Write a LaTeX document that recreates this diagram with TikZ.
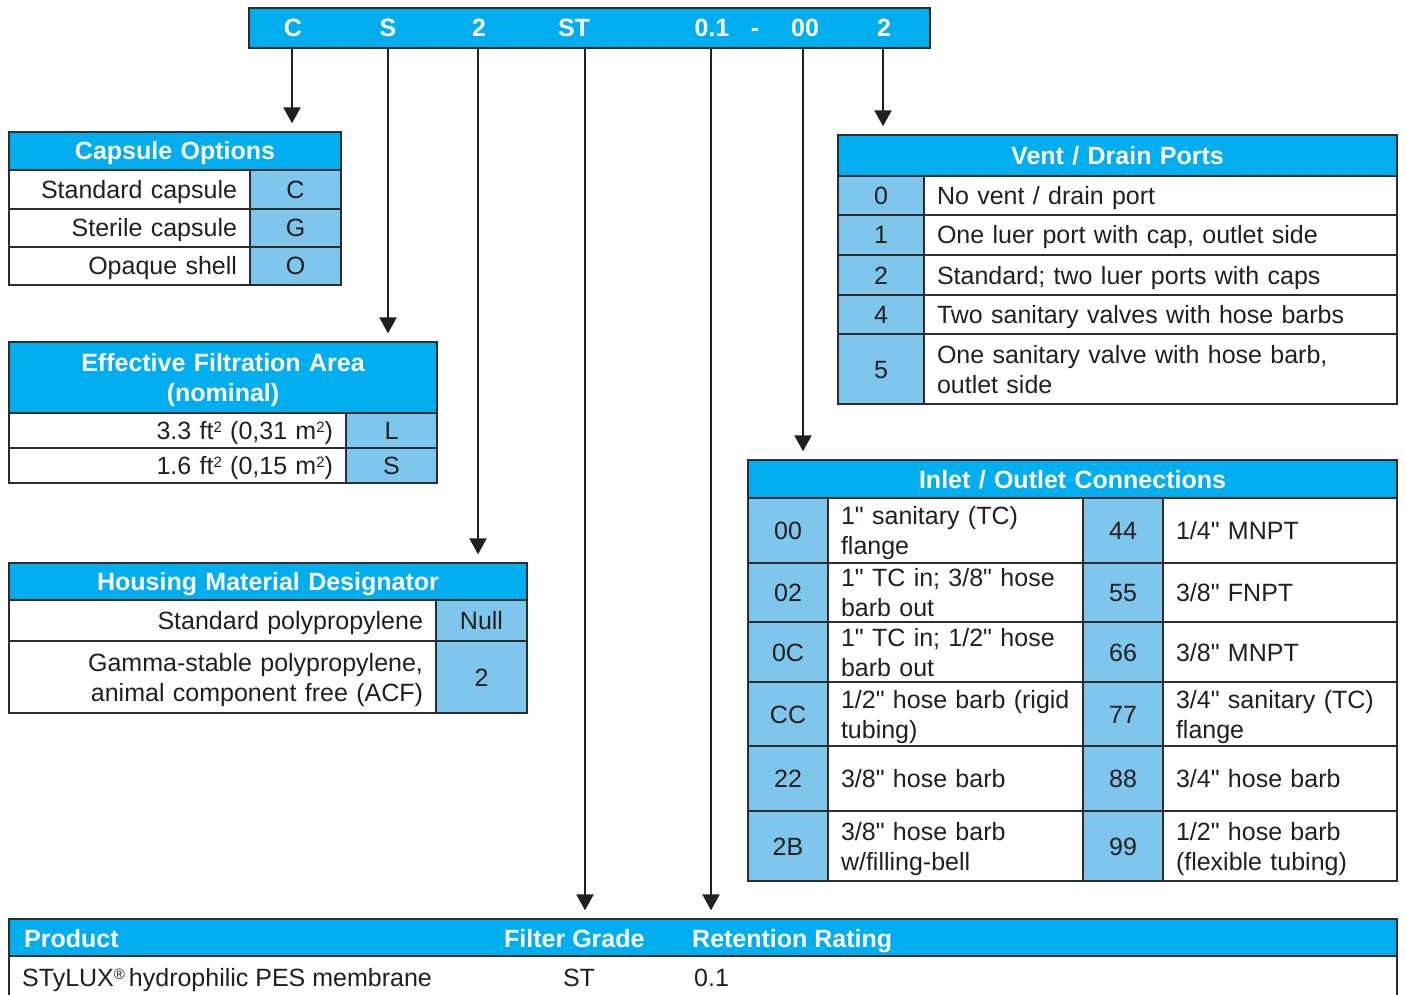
\documentclass[tikz,border=0pt]{standalone}
\usepackage{fontspec}
\newfontfamily\lsans{Liberation Sans}
\usetikzlibrary{arrows.meta}
\definecolor{hcyan}{RGB}{0,174,239}
\definecolor{cblue}{RGB}{126,198,236}
\definecolor{bord}{RGB}{45,45,45}
\definecolor{ink}{RGB}{35,31,32}
\newcommand\sqr{\raisebox{7.5pt}{\fontsize{15}{15}\selectfont 2}}
\newcommand\regm{\raisebox{7pt}{\fontsize{15}{15}\selectfont ®}\kern4pt}
\newcommand\tcell[8]{%
 \pgfmathsetmacro\tcw{#4-#2-26}%
 \pgfmathsetmacro\tcww{#4-#2}%
 \pgfmathsetmacro\tch{#5-#3}%
 \pgfmathsetmacro\tcx{(#2+#4)/2}%
 \pgfmathsetmacro\tcy{(#3+#5)/2}%
 \node[#6B, minimum width=\tcww pt, minimum height=\tch pt, inner sep=0pt] (#1) at (\tcx,\tcy) {};
 \node[#6T, align=#7, text width=\tcw pt, inner sep=0pt] (#1t) at ([yshift=-3pt]#1.center) {\strut #8\strut};}
\begin{document}
\begin{tikzpicture}[x=1pt,y=-1pt,
  every node/.style={font=\lsans\fontsize{25}{30}\selectfont, text=ink},
  hdrB/.style={draw=bord, fill=hcyan, line width=1.4pt},
  hdrT/.style={text=white, font=\lsans\fontsize{25}{30}\selectfont\bfseries},
  codeB/.style={draw=bord, fill=cblue, line width=1.4pt},
  codeT/.style={},
  descB/.style={draw=bord, fill=white, line width=1.4pt},
  descT/.style={},
  btxt/.style={text=white, font=\lsans\fontsize{25}{30}\selectfont\bfseries, inner sep=0pt, text height=18pt, text depth=0pt},
  ptxt/.style={inner sep=0pt, text height=18pt, text depth=0pt},
  arr/.style={draw=ink, line width=2.4pt, -{Triangle[length=16pt,width=17pt]}, shorten >=8pt}]
\useasboundingbox (0,0) rectangle (1406,995);

% top bar
\node[draw=bord, fill=hcyan, line width=1.4pt, minimum width=681pt, minimum height=40pt, inner sep=0pt] (bar) at (589.5,28) {};
\node[btxt] (kC) at (293,28) {C};
\node[btxt] (kS) at (388,28) {S};
\node[btxt] (k2) at (479,28) {2};
\node[btxt] (kST) at (574,28) {ST};
\node[btxt] (k01) at (712,28) {0.1};
\node[btxt] (kd) at (755,28) {-};
\node[btxt] (k00) at (805,28) {00};
\node[btxt] (kv) at (884,28) {2};

% Capsule options
\tcell{capH}{9}{132}{341}{170}{hdr}{center}{Capsule Options}
\tcell{cap1}{9}{170}{250}{209}{desc}{right}{Standard capsule}
\tcell{cap1c}{250}{170}{341}{209}{code}{center}{C}
\tcell{cap2}{9}{209}{250}{247}{desc}{right}{Sterile capsule}
\tcell{cap2c}{250}{209}{341}{247}{code}{center}{G}
\tcell{cap3}{9}{247}{250}{285}{desc}{right}{Opaque shell}
\tcell{cap3c}{250}{247}{341}{285}{code}{center}{O}

% Effective filtration area
\tcell{efaH}{9}{342}{437}{413}{hdr}{center}{Effective Filtration Area\\(nominal)}
\tcell{efa1}{9}{413}{346}{448}{desc}{right}{3.3 ft\sqr{} (0,31 m\sqr)}
\tcell{efa1c}{346}{413}{437}{448}{code}{center}{L}
\tcell{efa2}{9}{448}{346}{483}{desc}{right}{1.6 ft\sqr{} (0,15 m\sqr)}
\tcell{efa2c}{346}{448}{437}{483}{code}{center}{S}

% Housing material
\tcell{homH}{9}{563}{527}{600}{hdr}{center}{Housing Material Designator}
\tcell{hom1}{9}{600}{436}{641}{desc}{right}{Standard polypropylene}
\tcell{hom1c}{436}{600}{527}{641}{code}{center}{Null}
\tcell{hom2}{9}{641}{436}{713}{desc}{right}{Gamma-stable polypropylene,\\animal component free (ACF)}
\tcell{hom2c}{436}{641}{527}{713}{code}{center}{2}

% Vent / drain ports
\tcell{vdH}{838}{135}{1397}{176}{hdr}{center}{Vent / Drain Ports}
\tcell{vd0c}{838}{176}{924}{215}{code}{center}{0}
\tcell{vd0}{924}{176}{1397}{215}{desc}{left}{No vent / drain port}
\tcell{vd1c}{838}{215}{924}{255}{code}{center}{1}
\tcell{vd1}{924}{215}{1397}{255}{desc}{left}{One luer port with cap, outlet side}
\tcell{vd2c}{838}{255}{924}{295}{code}{center}{2}
\tcell{vd2}{924}{255}{1397}{295}{desc}{left}{Standard; two luer ports with caps}
\tcell{vd4c}{838}{295}{924}{334}{code}{center}{4}
\tcell{vd4}{924}{295}{1397}{334}{desc}{left}{Two sanitary valves with hose barbs}
\tcell{vd5c}{838}{334}{924}{404}{code}{center}{5}
\tcell{vd5}{924}{334}{1397}{404}{desc}{left}{One sanitary valve with hose barb,\\outlet side}

% Inlet / outlet connections
\tcell{ioH}{748}{460}{1397}{498}{hdr}{center}{Inlet / Outlet Connections}
\tcell{io00c}{748}{498}{828}{563}{code}{center}{00}
\tcell{io00}{828}{498}{1083}{563}{desc}{left}{1" sanitary (TC)\\flange}
\tcell{io44c}{1083}{498}{1163}{563}{code}{center}{44}
\tcell{io44}{1163}{498}{1397}{563}{desc}{left}{1/4" MNPT}
\tcell{io02c}{748}{563}{828}{622}{code}{center}{02}
\tcell{io02}{828}{563}{1083}{622}{desc}{left}{1" TC in; 3/8" hose\\barb out}
\tcell{io55c}{1083}{563}{1163}{622}{code}{center}{55}
\tcell{io55}{1163}{563}{1397}{622}{desc}{left}{3/8" FNPT}
\tcell{io0Cc}{748}{622}{828}{682}{code}{center}{0C}
\tcell{io0C}{828}{622}{1083}{682}{desc}{left}{1" TC in; 1/2" hose\\barb out}
\tcell{io66c}{1083}{622}{1163}{682}{code}{center}{66}
\tcell{io66}{1163}{622}{1397}{682}{desc}{left}{3/8" MNPT}
\tcell{ioCCc}{748}{682}{828}{746}{code}{center}{CC}
\tcell{ioCC}{828}{682}{1083}{746}{desc}{left}{1/2" hose barb (rigid\\tubing)}
\tcell{io77c}{1083}{682}{1163}{746}{code}{center}{77}
\tcell{io77}{1163}{682}{1397}{746}{desc}{left}{3/4" sanitary (TC)\\flange}
\tcell{io22c}{748}{746}{828}{811}{code}{center}{22}
\tcell{io22}{828}{746}{1083}{811}{desc}{left}{3/8" hose barb}
\tcell{io88c}{1083}{746}{1163}{811}{code}{center}{88}
\tcell{io88}{1163}{746}{1397}{811}{desc}{left}{3/4" hose barb}
\tcell{io2Bc}{748}{811}{828}{881}{code}{center}{2B}
\tcell{io2B}{828}{811}{1083}{881}{desc}{left}{3/8" hose barb\\w/filling-bell}
\tcell{io99c}{1083}{811}{1163}{881}{code}{center}{99}
\tcell{io99}{1163}{811}{1397}{881}{desc}{left}{1/2" hose barb\\(flexible tubing)}

% Bottom product table
\node[descB, minimum width=1388pt, minimum height=80pt, inner sep=0pt] (pb) at (703,996) {};
\node[hdrB, minimum width=1388pt, minimum height=37pt, inner sep=0pt] (ph) at (703,937.5) {};
\node[btxt, anchor=west] (pH1) at (24,938) {Product};
\node[btxt, anchor=west] (pH2) at (504,938) {Filter Grade};
\node[btxt, anchor=west] (pH3) at (692,938) {Retention Rating};
\node[ptxt, anchor=west] (pR1) at (22,977) {STyLUX\regm{}hydrophilic PES membrane};
\node[ptxt] (pR2) at (579,977) {ST};
\node[ptxt, anchor=west] (pR3) at (694,977) {0.1};

% arrows
\coordinate (xC) at (292,0);
\coordinate (xS) at (388,0);
\coordinate (x2) at (478,0);
\coordinate (xST) at (585,0);
\coordinate (x01) at (711,0);
\coordinate (x00) at (803,0);
\coordinate (xv) at (883,0);
\draw[arr] (xC |- bar.south) -- (xC |- capH.north);
\draw[arr] (xS |- bar.south) -- (xS |- efaH.north);
\draw[arr] (x2 |- bar.south) -- (x2 |- homH.north);
\draw[arr] (xST |- bar.south) -- (xST |- ph.north);
\draw[arr] (x01 |- bar.south) -- (x01 |- ph.north);
\draw[arr] (x00 |- bar.south) -- (x00 |- ioH.north);
\draw[arr] (xv |- bar.south) -- (xv |- vdH.north);
\end{tikzpicture}
\end{document}
